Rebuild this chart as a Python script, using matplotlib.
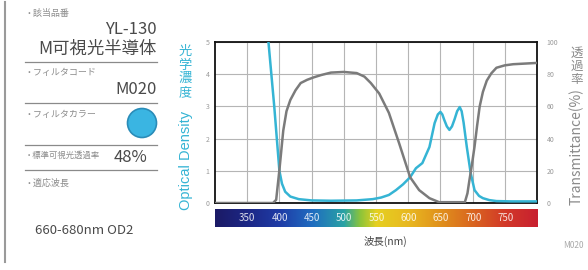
import numpy as np
import matplotlib
matplotlib.use('Agg')
import matplotlib.pyplot as plt
from matplotlib.colors import LinearSegmentedColormap
from matplotlib.patches import Circle
from matplotlib.lines import Line2D

plt.rcParams['font.family'] = ['Noto Sans CJK JP', 'DejaVu Sans']

# optical density curve (left axis)
wl_od = [380, 383, 392, 400, 404, 409, 417, 430, 450, 480, 520, 545, 558, 570, 581, 592, 603,
         612, 622, 633, 641, 646, 650, 653, 656, 660, 664, 668, 672, 676, 680, 683, 686, 691,
         697, 703, 710, 716, 726, 737, 760, 800]
od = [5.6, 5.0, 3.0, 1.0, 0.6, 0.35, 0.2, 0.12, 0.08, 0.07, 0.08, 0.12, 0.17, 0.25, 0.4, 0.58, 0.8,
      1.08, 1.24, 1.74, 2.48, 2.75, 2.83, 2.75, 2.58, 2.38, 2.27, 2.38, 2.6, 2.85, 2.98, 2.85, 2.5, 1.74,
      0.93, 0.4, 0.22, 0.15, 0.09, 0.06, 0.05, 0.05]

# transmittance curve (right axis)
wl_t = [300, 390, 395, 400, 406, 411, 417, 425, 433, 443, 453, 465, 480, 500, 520, 532, 542, 555,
        570, 586, 603, 617, 633, 648, 688, 692, 695, 699, 703, 707, 711, 716, 722, 729, 737, 750,
        763, 800]
trans = [0, 0, 2, 20.5, 45, 57, 64, 70, 74.5, 76.5, 78, 79.5, 81, 81.4, 80.7, 78.5, 74.5, 68,
         56, 37, 16, 8, 3, 0.5, 0.5, 6, 14, 24, 35, 48, 60, 69, 76, 80.5, 84, 85.5,
         86.2, 87]

xticks_wl = [350, 400, 450, 500, 550, 600, 650, 700, 750]
od_ticks = [0, 1, 2, 3, 4, 5]
t_ticks = [0, 20, 40, 60, 80, 100]

cyan = '#35b4d4'
gray_line = '#7b7b7b'
W, H = 588, 270

def px(x, y):
    return x / W, 1 - y / H

fig = plt.figure(figsize=(5.88, 2.70), dpi=100)
fig.patch.set_facecolor('white')

# main chart
ax = fig.add_axes([215 / W, 1 - 203 / H, 322 / W, 161 / H])
ax.plot(wl_od, od, color=cyan, lw=1.8, zorder=3)
ax.set_xlim(300, 800)
ax.set_ylim(0, 5)
ax.set_xticks(xticks_wl)
ax.set_yticks(od_ticks)
ax.grid(True, color='#b5b5b5', lw=0.8)
ax.tick_params(length=0, labelsize=5, labelcolor='#9a9a9a', pad=4)
ax.set_xticklabels([])
for s in ax.spines.values():
    s.set_color('#111111')
    s.set_linewidth(1.3)

ax2 = ax.twinx()
ax2.plot(wl_t, trans, color=gray_line, lw=1.8, zorder=2)
ax2.set_ylim(0, 100)
ax2.set_yticks(t_ticks)
ax2.tick_params(length=0, labelsize=5, labelcolor='#9a9a9a', pad=7)
for s in ax2.spines.values():
    s.set_visible(False)

# y labels
fig.text(*px(185, 72), '光\n学\n濃\n度', color=cyan, fontsize=9.5, ha='center', va='center',
         linespacing=1.05)
fig.text(*px(186, 160), 'Optical Density', color=cyan, fontsize=10.5, rotation=90,
         ha='center', va='center', family=['Liberation Sans', 'DejaVu Sans'])
fig.text(*px(577, 66), '透\n過\n率', color='#8a8a8a', fontsize=9, ha='center', va='center',
         linespacing=1.0)
fig.text(*px(577, 147), 'Transmittance(%)', color='#8a8a8a', fontsize=10, rotation=90,
         ha='center', va='center')

# spectrum bar
stops = [(0.0, '#1b1a66'), (0.1, '#1c2786'), (0.2, '#1f3ca6'), (0.3, '#1f6cc0'),
         (0.4, '#2aa3a4'), (0.45, '#8cc43a'), (0.5, '#e6d020'), (0.6, '#e8b820'),
         (0.7, '#e0901c'), (0.8, '#d96520'), (0.9, '#d23828'), (1.0, '#c82030')]
spec = LinearSegmentedColormap.from_list('spec', stops)
cax = fig.add_axes([215 / W, 1 - 227 / H, 323 / W, 18 / H])
cax.imshow(np.linspace(0, 1, 256)[None, :], cmap=spec, aspect='auto',
           extent=[300, 800, 0, 1])
cax.set_xlim(300, 800)
cax.axis('off')
for w in xticks_wl:
    cax.text(w, 0.5, str(w), color='white', alpha=0.85, fontsize=7, ha='center', va='center')

fig.text(*px(385, 241), '波長(nm)', color='#444444', fontsize=7.5, ha='center', va='center')
fig.text(*px(573, 246), 'M020', color='#aaaaaa', fontsize=6, ha='center', va='center')

# left info panel
fig.add_artist(Line2D([5 / W, 5 / W], [1 - 262 / H, 1 - 2 / H], color='#9a9a9a', lw=1.5))
for yy in [62, 103, 145, 170]:
    fig.add_artist(Line2D([25 / W, 157 / W], [1 - yy / H] * 2, color='#8a8a8a', lw=0.9))

small = dict(color='#8c8c8c', fontsize=6.5, ha='left', va='center')
big = dict(color='#4a4a4a', fontsize=12, ha='right', va='center')
fig.text(*px(25, 13), '・該当品番', **small)
fig.text(*px(157, 30), 'YL-130', **big)
fig.text(*px(157, 49), 'M可視光半導体', color='#4a4a4a', fontsize=12.5, ha='right', va='center')
fig.text(*px(25, 73), '・フィルタコード', **small)
fig.text(*px(157, 89), 'M020', **big)
fig.text(*px(25, 114), '・フィルタカラー', **small)
fig.text(*px(25, 155), '・標準可視光透過率', color='#8c8c8c', fontsize=6, ha='left', va='center')
fig.text(*px(147, 158), '48%', **big)
fig.text(*px(25, 183), '・適応波長', **small)
fig.text(*px(35, 231), '660-680nm OD2', color='#4a4a4a', fontsize=9.5, ha='left', va='center')

# filter colour swatch, kept round via inch coordinates
circ = Circle((142 / 100, (H - 123) / 100), 0.145, transform=fig.dpi_scale_trans,
              facecolor='#3ab5e2', edgecolor='#2a8cb8', lw=1.2)
fig.add_artist(circ)

fig.savefig('out.png', dpi=100)
